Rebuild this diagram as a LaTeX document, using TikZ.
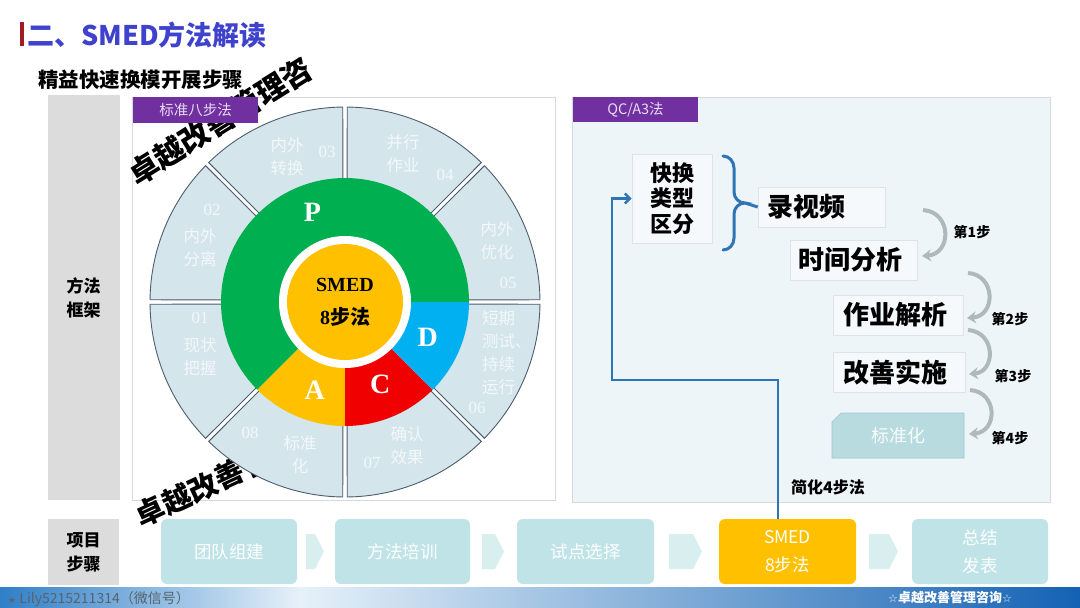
\documentclass[tikz,border=0pt]{standalone}
\usepackage{fontspec}
\setmainfont{Liberation Serif}
\newfontfamily\cjk{Noto Sans CJK SC}
\newfontfamily\djv{DejaVu Sans}
\usetikzlibrary{arrows.meta}
\definecolor{titleblue}{HTML}{3E42CC}
\definecolor{titlered}{HTML}{A11B22}
\definecolor{colgray}{HTML}{DCDCDC}
\definecolor{pborder}{HTML}{D6D9DC}
\definecolor{rpfill}{HTML}{EEF5F9}
\definecolor{purp}{HTML}{7030A0}
\definecolor{purptxt}{HTML}{EADCF4}
\definecolor{segfill}{HTML}{D4E5EC}
\definecolor{segline}{HTML}{4C5D6E}
\definecolor{pgreen}{HTML}{00B050}
\definecolor{pyellow}{HTML}{FFC000}
\definecolor{pred}{HTML}{F00000}
\definecolor{pblue}{HTML}{00B0F0}
\definecolor{lineblue}{HTML}{2E75B6}
\definecolor{boxfill}{HTML}{F6F9FB}
\definecolor{boxline}{HTML}{DDE3E7}
\definecolor{garrow}{HTML}{AEB9B9}
\definecolor{stdfill}{HTML}{B8DBDF}
\definecolor{stdline}{HTML}{9AC7CC}
\definecolor{stepfill}{HTML}{BFE3E7}
\definecolor{chev}{HTML}{D8EEEF}
\definecolor{footL}{HTML}{2F7FC8}
\definecolor{footM}{HTML}{E6F1F9}
\definecolor{footR}{HTML}{1462B4}
\definecolor{foottxt}{HTML}{56636F}
\colorlet{segtext}{white!72!segfill}
\newcommand\ringseg[2]{\filldraw[seg] ({#1+0.65}:195) arc[start angle={#1+0.65}, end angle={#2-0.65}, radius=195] -- ({#2-1.05}:118) arc[start angle={#2-1.05}, end angle={#1+1.05}, radius=118] -- cycle;}
\newcommand\chevron[2]{\fill[chev] (#1,534) -- ({#2-9},534) -- (#2,551.5) -- ({#2-9},569) -- (#1,569) -- cycle;}
\begin{document}
\begin{tikzpicture}[x=1pt,y=-1pt,
  seg/.style={fill=segfill,draw=segline,line width=0.9pt},
  segtxt/.style={text=segtext,font=\cjk\fontsize{16.5}{23}\selectfont,align=center,inner sep=0},
  segnum/.style={text=segtext,font=\fontsize{17}{17}\selectfont,inner sep=0},
  pacd/.style={text=white,font=\bfseries\fontsize{28}{28}\selectfont,inner sep=0},
  graybox/.style={fill=colgray,inner sep=0,align=center,font=\cjk\bfseries\fontsize{17}{24}\selectfont},
  plabel/.style={fill=purp,text=purptxt,inner sep=0,font=\cjk\fontsize{14.5}{15}\selectfont},
  rbox/.style={fill=boxfill,draw=boxline,line width=0.6pt,font=\cjk\bfseries\fontsize{26}{28}\selectfont,align=left},
  stepbox/.style={fill=stepfill,text=white,rounded corners=6pt,inner sep=0,minimum height=65,align=center,font=\cjk\fontsize{17.5}{28}\selectfont},
  wm/.style={text=black,inner sep=0,font=\cjk\bfseries\fontsize{30}{30}\selectfont},
  garr/.style={draw=garrow,line width=4pt,-{Stealth[length=9pt,width=12pt,inset=3pt]}},
  steplbl/.style={inner sep=0,font=\cjk\bfseries\fontsize{14}{14}\selectfont}]
\useasboundingbox (0,0) rectangle (1080,608);
\fill[white] (0,0) rectangle (1080,608);
% title
\fill[titlered] (20,22) rectangle (24,46);
\node[anchor=west,inner sep=0,text=titleblue,font=\cjk\bfseries\fontsize{27}{29}\selectfont] (title) at (27,35) {二、SMED方法解读};
\node[anchor=west,inner sep=0,font=\cjk\bfseries\fontsize{20.5}{22}\selectfont] (sub) at (38,80) {精益快速换模开展步骤};
% side column and panels
\node[graybox,minimum width=72,minimum height=405] (col1) at (83.5,297.5) {方法\\框架};
\node[draw=pborder,fill=white,line width=0.8pt,minimum width=423,minimum height=403,inner sep=0] (lp) at (343.5,298.5) {};
\node[draw=pborder,fill=rpfill,line width=0.8pt,minimum width=478,minimum height=405,inner sep=0] (rp) at (811,299.5) {};
% watermarks
\begin{scope}
\clip (100,56) rectangle (316,200);
\node[wm,rotate=32] (wm1) at (220,121) {卓越改善管理咨};
\end{scope}
\begin{scope}
\clip (120,420) rectangle (330,535);
\node[wm,rotate=25,font=\cjk\bfseries\fontsize{29}{29}\selectfont] (wm2) at (203,487) {卓越改善管};
\end{scope}
% ring
\begin{scope}[shift={(345,302)},x=1pt,y=1pt]
\ringseg{0}{45}
\ringseg{45}{90}
\ringseg{90}{135}
\ringseg{135}{180}
\ringseg{180}{225}
\ringseg{225}{270}
\ringseg{270}{315}
\ringseg{315}{360}
\fill[pgreen] (0,0) -- (0:124) arc[start angle=0,end angle=225,radius=124] -- cycle;
\fill[pyellow] (0,0) -- (225:124) arc[start angle=225,end angle=270,radius=124] -- cycle;
\fill[pred] (0,0) -- (270:124) arc[start angle=270,end angle=315,radius=124] -- cycle;
\fill[pblue] (0,0) -- (315:124) arc[start angle=315,end angle=360,radius=124] -- cycle;
\fill[white] (0,0) circle[radius=66];
\node[circle,fill=pyellow,minimum size=116,inner sep=0,align=center,font=\bfseries\fontsize{20}{33}\selectfont] (core) at (0,0) {SMED\\8{\cjk 步法}};
\node[pacd] (P) at (110:95) {P};
\node[pacd] (D) at (-23:90) {D};
\node[pacd] (C) at (-67:90) {C};
\node[pacd] (A) at (251:93) {A};
\end{scope}
% segment texts
\node[segtxt] (s01) at (200,357) {现状\\把握};
\node[segnum] (n01) at (200,318) {01};
\node[segtxt] (s02) at (200,248) {内外\\分离};
\node[segnum] (n02) at (212,210) {02};
\node[segtxt] (s03) at (287,157) {内外\\转换};
\node[segnum] (n03) at (327,152) {03};
\node[segtxt] (s04) at (403,154) {并行\\作业};
\node[segnum] (n04) at (445,175) {04};
\node[segtxt] (s05) at (497,241) {内外\\优化};
\node[segnum] (n05) at (508,283) {05};
\node[segtxt,align=left,anchor=west] (s06) at (482,353) {短期\\测试、\\持续\\运行};
\node[segnum] (n06) at (477,408) {06};
\node[segtxt] (s07) at (407,446) {确认\\效果};
\node[segnum] (n07) at (372,463) {07};
\node[segtxt] (s08) at (300,455) {标准\\化};
\node[segnum] (n08) at (250,433) {08};
% purple labels
\node[plabel,minimum width=125,minimum height=26] (lab1) at (195.5,110) {标准八步法};
\node[plabel,minimum width=125,minimum height=25] (lab2) at (635.5,109.5) {QC/A3法};
% right panel content
\node[rbox,minimum width=80,minimum height=89,inner sep=0,align=center,font=\cjk\bfseries\fontsize{22}{25.5}\selectfont] (kh) at (672,198.5) {快换\\类型\\区分};
\node[rbox,minimum width=127,minimum height=40,inner xsep=9,inner ysep=0,text width=109] (v1) at (821.5,207) {录视频};
\node[rbox,minimum width=127,minimum height=40,inner xsep=8,inner ysep=0,text width=111] (v2) at (853.5,260) {时间分析};
\node[rbox,minimum width=130,minimum height=40,inner xsep=10,inner ysep=0,text width=110] (v3) at (898,315) {作业解析};
\node[rbox,minimum width=132,minimum height=40,inner xsep=10,inner ysep=0,text width=112] (v4) at (899,372) {改善实施};
\filldraw[fill=stdfill,draw=stdline,line width=0.6pt] (841,413) -- (964,413) -- (964,458) -- (832,458) -- (832,422) -- cycle;
\node[inner sep=0,minimum width=132,minimum height=45,text=white!92!stdfill,font=\cjk\fontsize{18}{18}\selectfont] (v5) at (898,435.5) {标准化};
% brace
\coordinate (btip) at (745,203);
\draw[lineblue,line width=3pt,line cap=round] (723,156) to[out=0,in=90] (734,168) -- (734,192) to[out=-90,in=180] (btip) to[out=180,in=90] (734,214) -- (734,238) to[out=-90,in=0] (723,250);
\draw[lineblue,line width=3pt] (btip) -- (v1.west);
% gray step arrows
\coordinate (a1s) at (923,210); \coordinate (a1e) at (922,256);
\coordinate (a2s) at (968,273); \coordinate (a2e) at (967,318);
\coordinate (a3s) at (968,330); \coordinate (a3e) at (969,374);
\coordinate (a4s) at (970,390); \coordinate (a4e) at (969,434);
\draw[garr] (a1s) .. controls (952,212) and (952,254) .. (a1e);
\draw[garr] (a2s) .. controls (996,275) and (996,316) .. (a2e);
\draw[garr] (a3s) .. controls (996,332) and (996,372) .. (a3e);
\draw[garr] (a4s) .. controls (998,392) and (998,432) .. (a4e);
\node[steplbl] (l1) at (972,232) {第1步};
\node[steplbl] (l2) at (1010,319) {第2步};
\node[steplbl] (l3) at (1013,376) {第3步};
\node[steplbl] (l4) at (1010,438) {第4步};
\node[anchor=west,inner sep=0,font=\cjk\bfseries\fontsize{16}{16}\selectfont] (simp) at (791,487) {简化4步法};
% bottom row
\node[graybox,minimum width=71,minimum height=66] (col2) at (83.5,552) {项目\\步骤};
\node[stepbox,minimum width=136] (b1) at (229,551.5) {团队组建};
\node[stepbox,minimum width=135] (b2) at (402.5,551.5) {方法培训};
\node[stepbox,minimum width=137] (b3) at (585.5,551.5) {试点选择};
\node[stepbox,minimum width=137,fill=pyellow] (smed) at (787.5,551.5) {SMED\\8步法};
\node[stepbox,minimum width=136] (b5) at (980,551.5) {总结\\发表};
\chevron{306}{324}
\chevron{482}{504}
\chevron{669}{702}
\chevron{869}{898}
% blue connector
\coordinate (c1) at (778,380);
\coordinate (c2) at (612,380);
\coordinate (c3) at (612,198.5);
\draw[lineblue,line width=2.5pt,-{Straight Barb[length=5pt,width=10pt]}] (smed.north -| c1) -- (c1) -- (c2) -- (c3) -- (kh.west);
% footer
\shade[left color=footL,right color=footM] (0,587) rectangle (300,608);
\shade[left color=footM,right color=footR] (299.5,587) rectangle (1080,608);
\node[anchor=west,inner sep=0,text=foottxt,font=\cjk\fontsize{14}{14}\selectfont] (wx) at (8,599) {{\djv\fontsize{9}{9}\selectfont ★} Lily5215211314（微信号）};
\node[inner sep=0,text=white,font=\cjk\bfseries\fontsize{13}{13}\selectfont] (brand) at (950,598) {{\djv\fontsize{11}{11}\selectfont ☆}卓越改善管理咨询{\djv\fontsize{11}{11}\selectfont ☆}};
\end{tikzpicture}
\end{document}
